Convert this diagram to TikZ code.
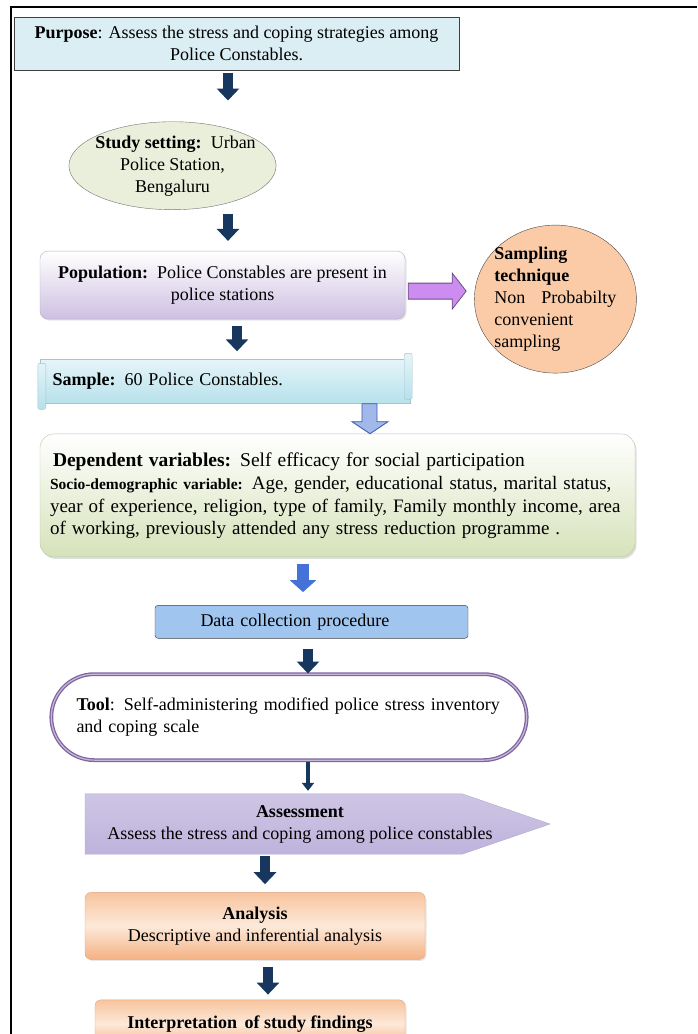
\documentclass[tikz,border=0pt]{standalone}
\usepackage{fontspec}
\setmainfont{Liberation Serif}
\usepackage{xcolor}
\definecolor{navyarr}{RGB}{23, 55, 94}
\definecolor{purposeblue}{RGB}{219, 238, 244}
\definecolor{settinggreen}{RGB}{233, 239, 218}
\definecolor{poplav}{RGB}{205, 192, 226}
\definecolor{samplingorange}{RGB}{250, 203, 166}
\definecolor{sampletop}{RGB}{229, 245, 249}
\definecolor{samplebot}{RGB}{183, 225, 235}
\definecolor{depgreen}{RGB}{214, 226, 186}
\definecolor{brightblue}{RGB}{68, 114, 216}
\definecolor{datablue}{RGB}{160, 198, 240}
\definecolor{toolpurple}{RGB}{128, 100, 162}
\definecolor{assesslav}{RGB}{190, 179, 220}
\definecolor{sidepurple}{RGB}{204, 140, 240}
\definecolor{orangetop}{RGB}{247, 196, 158}
\definecolor{orangemid}{RGB}{253, 233, 217}
\definecolor{orangebot}{RGB}{244, 177, 131}
\usepackage{tikz}
\usetikzlibrary{
    shapes.geometric,
    shapes.misc,
    arrows.meta,
    positioning,
    shadows,
    backgrounds
}
\tikzstyle{purposebox} = [
    rectangle, draw=black!75,
    line width=1pt,
    fill=purposeblue,
    minimum width=445pt,
    minimum height=53pt,
    align=center
]
\tikzstyle{settingbox} = [
    ellipse, draw=black!55,
    fill=settinggreen,
    minimum width=205pt,
    minimum height=88pt,
    align=center,
    inner xsep=-10pt, inner ysep=-2pt
]
\tikzstyle{popbox} = [
    rectangle, rounded corners=8pt,
    draw=poplav!70!gray,
    top color=white, bottom color=poplav,
    minimum width=365pt,
    minimum height=68pt,
    align=center,
    drop shadow={opacity=0.2, shadow xshift=1.5pt, shadow yshift=-1.5pt}
]
\tikzstyle{samplingbox} = [
    ellipse, draw=black!70,
    fill=samplingorange,
    minimum width=162pt,
    minimum height=148pt,
    text width=122pt,
    align=left,
    inner xsep=-4pt, inner ysep=-4pt
]
\tikzstyle{samplebox} = [
    rectangle, draw=samplebot!70!gray,
    top color=sampletop, bottom color=samplebot,
    minimum width=370pt,
    minimum height=44pt,
    text width=345pt,
    align=left
]
\tikzstyle{curl} = [
    draw=samplebot!70!gray,
    top color=sampletop, bottom color=samplebot,
    rounded corners=2pt
]
\tikzstyle{depbox} = [
    rectangle, rounded corners=14pt,
    draw=depgreen!70!gray,
    top color=white, bottom color=depgreen,
    minimum width=595pt,
    minimum height=123pt,
    text width=575pt,
    align=left,
    drop shadow={opacity=0.25, shadow xshift=1.5pt, shadow yshift=-2pt}
]
\tikzstyle{databox} = [
    rectangle, rounded corners=3pt,
    draw=black!75,
    fill=datablue,
    minimum width=313pt,
    minimum height=33pt,
    text width=222pt,
    align=left
]
\tikzstyle{toolbox} = [
    rounded rectangle,
    draw=toolpurple, line width=1.3pt,
    double=toolpurple!45, double distance=1.2pt,
    fill=white,
    minimum width=482pt,
    minimum height=86pt,
    text width=425pt,
    align=left
]
\tikzstyle{assessbox} = [
    rectangle,
    minimum height=60pt,
    align=center
]
\tikzstyle{orangebox} = [
    rectangle, rounded corners=6pt,
    draw=orangebot!80!gray,
    top color=orangetop, bottom color=orangebot, middle color=orangemid,
    align=center,
    drop shadow={opacity=0.2, shadow xshift=1.5pt, shadow yshift=-1.5pt}
]
\tikzstyle{arrow} = [
    navyarr,
    line width=10pt,
    -{Triangle[width=22pt, length=12pt]}
]
\tikzstyle{bluearrow} = [
    brightblue,
    line width=12pt,
    -{Triangle[width=26pt, length=12pt]}
]
\tikzstyle{thinarrow} = [
    navyarr,
    line width=4pt,
    -{Triangle[width=12pt, length=8pt]}
]
\tikzstyle{blockarrow} = [
    draw=toolpurple!80!black,
    line width=0.8pt
]

\begin{document}
\begin{tikzpicture}[
    x=1pt, y=-1pt,
    every node/.style={font=\fontsize{18}{22}\selectfont}
]
\useasboundingbox (0,0) rectangle (697,1034);
\clip (0,0) rectangle (697,1034);

% frame
\draw[line width=1.2pt] (11,1034) -- (11,7) -- (697,7);

\node (purpose) [purposebox] at (236.5,43.5)
    {\textbf{Purpose}: Assess the stress and coping strategies among\\Police Constables.};
\node (setting) [settingbox, below=51pt of purpose, xshift=-64pt]
    {\hspace*{6pt}\textbf{Study setting:}\, Urban\\Police Station,\\Bengaluru};
\node (population) [popbox, below=41pt of setting, xshift=50pt]
    {\textbf{Population:}\, Police Constables are present in\\police stations};
\node (sampling) [samplingbox, right=69pt of population, yshift=-14pt]
    {\textbf{Sampling}\\\textbf{technique}\\Non\hfill Probabilty\\convenient\\sampling};
\node (sample) [samplebox, below=40pt of population, xshift=2.5pt]
    {\textbf{Sample:} 60 Police Constables.};
\node (dependent) [depbox, below=30pt of sample, xshift=112.5pt]
    {{\fontsize{19.5}{23}\selectfont\hspace*{3pt}\textbf{Dependent variables:} Self efficacy for social participation}\\
     {\fontsize{19}{23}\selectfont{\fontsize{15.5}{23}\selectfont\textbf{Socio-demographic variable:}} Age, gender, educational status, marital status,\\
     year of experience, religion, type of family, Family monthly income, area\\
     of working, previously attended any stress reduction programme .}};
\node (datacoll) [databox, below=48pt of dependent, xshift=-26pt]
    {Data collection procedure};
\node (tool) [toolbox, below=35pt of datacoll, xshift=-22.5pt]
    {\textbf{Tool}: Self-administering modified police stress inventory\\and coping scale};
\node (assess) [assessbox, below=33pt of tool, xshift=11pt]
    {\textbf{Assessment}\\Assess the stress and coping among police constables};
\node (analysis) [orangebox, minimum width=340pt, minimum height=67pt,
    below=38pt of assess, xshift=-45pt]
    {\textbf{Analysis}\\Descriptive and inferential analysis};
\node (interp) [orangebox, minimum width=310pt, minimum height=48pt,
    below=40pt of analysis, xshift=-5pt]
    {\textbf{Interpretation\, of study findings}};

% scroll ends of the sample box
\draw[curl] ([xshift=-2pt]sample.north west) ++(0,4) rectangle ++(8,46);
\draw[curl] ([xshift=-6pt]sample.north east) ++(0,-6) rectangle ++(8,46);

% pointed assessment box
\begin{scope}[on background layer]
\shade[top color=assesslav!75, bottom color=assesslav, draw=assesslav!80!gray]
    ([xshift=-215pt]assess.north) -- ([xshift=162pt]assess.north)
    -- ([xshift=250pt]assess.center) -- ([xshift=162pt]assess.south)
    -- ([xshift=-215pt]assess.south) -- cycle;
\end{scope}

\draw [arrow, shorten <=2pt, shorten >=21pt]
    ([xshift=-8.5pt]purpose.south) -- ([xshift=55.5pt]setting.north);
\draw [arrow, shorten <=4pt, shorten >=10pt]
    ([xshift=55.5pt]setting.south) -- ([xshift=5.5pt]population.north);
\draw [arrow, shorten <=7pt, shorten >=8pt]
    ([xshift=14.5pt]population.south) -- ([xshift=12pt]sample.north);
\draw [bluearrow, shorten <=7pt, shorten >=13pt]
    ([xshift=-34.5pt]dependent.south) -- ([xshift=-8.5pt]datacoll.north);
\draw [arrow, shorten <=10pt]
    ([xshift=-3.5pt]datacoll.south) -- ([xshift=19pt]tool.north);
\draw [thinarrow, shorten <=1pt, shorten >=3pt]
    ([xshift=19pt]tool.south) -- ([xshift=8pt]assess.north);
\draw [arrow, shorten <=2pt, shorten >=8pt]
    ([xshift=-35pt]assess.south) -- ([xshift=10pt]analysis.north);
\draw [arrow, shorten <=7pt, shorten >=5pt]
    ([xshift=13pt]analysis.south) -- ([xshift=18pt]interp.north);

% side arrow to the sampling technique
\draw [blockarrow, fill=sidepurple]
    (population.east) ++(3,-2) -- ++(44,0) -- ++(0,-10) -- ++(14,18)
    -- ++(-14,18) -- ++(0,-10) -- ++(-44,0) -- cycle;
% arrow from sample down to the variables
\draw [draw=brightblue!80!black, line width=0.8pt, fill=brightblue!50!white]
    ([xshift=137pt]sample.south) -- ++(15,0) -- ++(0,18) -- ++(11,0)
    -- ([xshift=32.5pt]dependent.north) -- ++(-18,-12) -- ++(10,0) -- cycle;

\end{tikzpicture}
\end{document}
